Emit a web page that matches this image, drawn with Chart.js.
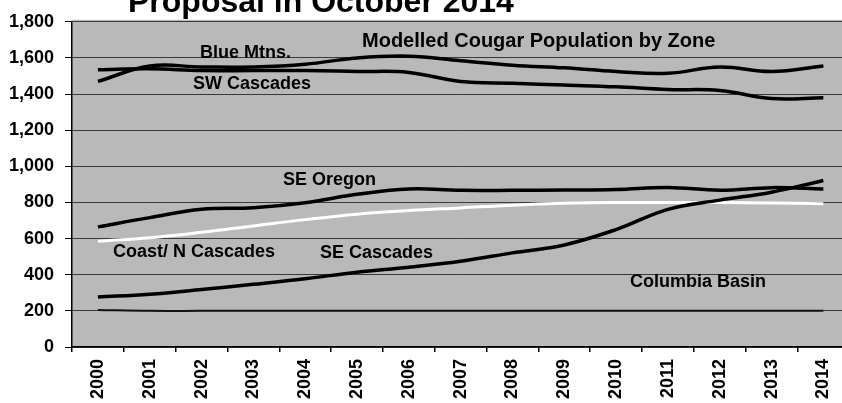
<!DOCTYPE html>
<html>
<head>
<meta charset="utf-8">
<script src="https://cdn.jsdelivr.net/npm/chart.js@4"></script>
<style>
  html, body { margin: 0; padding: 0; background: #fff; overflow: hidden; }
  #wrap { width: 852px; height: 403px; }
</style>
</head>
<body>
<div id="wrap"><canvas id="chart" width="852" height="403"></canvas></div>
<script>
// years on the category axis
const years = ['2000', '2001', '2002', '2003', '2004', '2005', '2006', '2007',
  '2008', '2009', '2010', '2011', '2012', '2013', '2014'];

// modelled cougar population per zone
const blueMtns      = [1470, 1555, 1550, 1550, 1565, 1600, 1610, 1585, 1560, 1545, 1525, 1515, 1550, 1525, 1555];
const swCascades    = [1535, 1540, 1530, 1530, 1530, 1525, 1520, 1470, 1460, 1450, 1440, 1425, 1420, 1375, 1380];
const seOregon      = [665, 716, 762, 771, 799, 845, 875, 867, 867, 869, 872, 883, 868, 882, 875];
const coastNCasc    = [585, 605, 635, 670, 705, 735, 755, 770, 785, 795, 800, 800, 800, 797, 793];
const seCascades    = [277, 292, 318, 347, 378, 414, 442, 475, 521, 565, 650, 762, 813, 857, 922];
const columbiaBasin = [205, 200, 200, 200, 200, 200, 200, 200, 200, 200, 200, 200, 200, 200, 200];

const yTicks = [0, 200, 400, 600, 800, 1000, 1200, 1400, 1600, 1800];

const FONT = '"Liberation Sans", Arial, sans-serif';

// text drawn over the plot: [text, x, y, size]
const notes = [
  ['Modelled Cougar Population by Zone', 362, 47, 20],
  ['Blue Mtns.', 200, 58, 18],
  ['SW Cascades', 193, 89, 18],
  ['SE Oregon', 283, 185, 18],
  ['Coast/ N Cascades', 113, 257, 18],
  ['SE Cascades', 320, 258, 18],
  ['Columbia Basin', 630, 287, 18],
];

const plotBg = {
  id: 'plotBg',
  beforeDraw(chart) {
    const { ctx, chartArea: a } = chart;
    ctx.save();
    ctx.fillStyle = '#b9b9b9';
    ctx.fillRect(a.left, a.top - 2, a.right - a.left, a.bottom - a.top + 2);
    ctx.restore();
  },
};

const texts = {
  id: 'texts',
  afterDraw(chart) {
    const ctx = chart.ctx;
    ctx.save();
    ctx.fillStyle = '#000';
    ctx.textBaseline = 'alphabetic';
    ctx.textAlign = 'left';
    ctx.font = `bold 32px ${FONT}`;
    ctx.fillText('Proposal in October 2014', 128, 12);
    notes.forEach(([t, x, y, s]) => {
      ctx.font = `bold ${s}px ${FONT}`;
      ctx.fillText(t, x, y);
    });
    ctx.restore();
  },
};

const line = (label, data, color, width) => ({
  label, data,
  borderColor: color,
  backgroundColor: color,
  borderWidth: width,
  pointRadius: 0,
  tension: 0.4,
  fill: false,
});

new Chart(document.getElementById('chart'), {
  type: 'line',
  data: {
    labels: years,
    datasets: [
      line('Blue Mtns.', blueMtns, '#000', 3.5),
      line('SW Cascades', swCascades, '#000', 3.5),
      line('SE Oregon', seOregon, '#000', 3.5),
      line('SE Cascades', seCascades, '#000', 3.5),
      line('Columbia Basin', columbiaBasin, '#111', 2),
      line('Coast/ N Cascades', coastNCasc, '#fff', 3),
    ],
  },
  options: {
    responsive: false,
    animation: false,
    layout: { padding: { top: 21, right: 1, left: 0, bottom: 0 } },
    plugins: { legend: { display: false }, tooltip: { enabled: false } },
    scales: {
      x: {
        offset: true,
        grid: { offset: true, drawOnChartArea: false, drawTicks: true, tickLength: 5, color: '#000', lineWidth: 1.5 },
        border: { color: '#000', width: 1.5 },
        ticks: {
          color: '#000', font: { family: FONT, size: 18, weight: 'bold' },
          minRotation: 90, maxRotation: 90, padding: 7, autoSkip: false,
        },
        afterFit(s) { s.height = 56; },
      },
      y: {
        min: 0, max: 1800,
        afterBuildTicks(s) { s.ticks = yTicks.map((v) => ({ value: v })); },
        grid: { color: '#3a3a3a', lineWidth: 1, tickLength: 7, tickColor: '#000' },
        border: { color: '#000', width: 1.5 },
        ticks: {
          color: '#000', padding: 11,
          font: { family: FONT, size: 18, weight: 'bold' },
          callback: (v) => v.toLocaleString('en-US'),
        },
        afterFit(s) { s.width = 72; },
      },
    },
  },
  plugins: [plotBg, texts],
});
</script>
</body>
</html>
